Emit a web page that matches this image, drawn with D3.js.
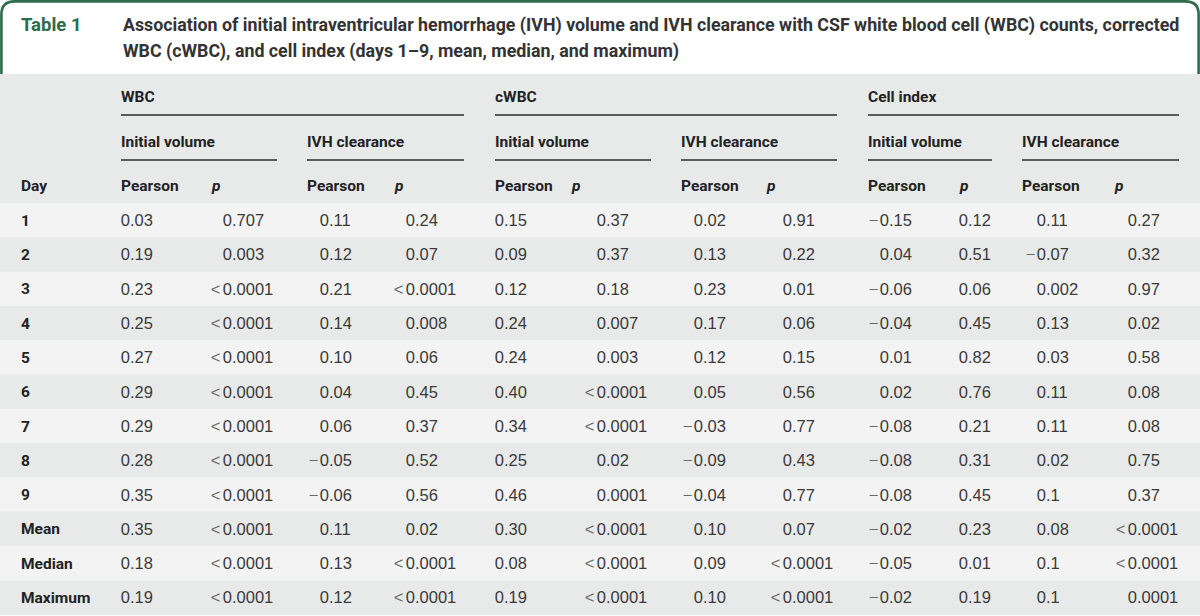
<!DOCTYPE html>
<html>
<head>
<meta charset="utf-8">
<script src="https://cdn.jsdelivr.net/npm/d3@7/dist/d3.min.js"></script>
<style>
  html, body { margin: 0; padding: 0; background: #ffffff; }
  svg { display: block; }
</style>
</head>
<body>
<svg id="chart" width="1200" height="616"></svg>
<script>
// ---------- DATA ----------
const tableLabel = "Table 1";
const titleLines = [
  "Association of initial intraventricular hemorrhage (IVH) volume and IVH clearance with CSF white blood cell (WBC) counts, corrected",
  "WBC (cWBC), and cell index (days 1–9, mean, median, and maximum)"
];
const groups = ["WBC", "cWBC", "Cell index"];
const subgroups = ["Initial volume", "IVH clearance"];
const statLabels = ["Pearson", "p"];
const dayHeader = "Day";
const days = ["1", "2", "3", "4", "5", "6", "7", "8", "9", "Mean", "Median", "Maximum"];

const wbcInitR  = ["0.03","0.19","0.23","0.25","0.27","0.29","0.29","0.28","0.35","0.35","0.18","0.19"];
const wbcInitP  = ["0.707","0.003","<0.0001","<0.0001","<0.0001","<0.0001","<0.0001","<0.0001","<0.0001","<0.0001","<0.0001","<0.0001"];
const wbcClrR   = ["0.11","0.12","0.21","0.14","0.10","0.04","0.06","−0.05","−0.06","0.11","0.13","0.12"];
const wbcClrP   = ["0.24","0.07","<0.0001","0.008","0.06","0.45","0.37","0.52","0.56","0.02","<0.0001","<0.0001"];
const cwbcInitR = ["0.15","0.09","0.12","0.24","0.24","0.40","0.34","0.25","0.46","0.30","0.08","0.19"];
const cwbcInitP = ["0.37","0.37","0.18","0.007","0.003","<0.0001","<0.0001","0.02","0.0001","<0.0001","<0.0001","<0.0001"];
const cwbcClrR  = ["0.02","0.13","0.23","0.17","0.12","0.05","−0.03","−0.09","−0.04","0.10","0.09","0.10"];
const cwbcClrP  = ["0.91","0.22","0.01","0.06","0.15","0.56","0.77","0.43","0.77","0.07","<0.0001","<0.0001"];
const ciInitR   = ["−0.15","0.04","−0.06","−0.04","0.01","0.02","−0.08","−0.08","−0.08","−0.02","−0.05","−0.02"];
const ciInitP   = ["0.12","0.51","0.06","0.45","0.82","0.76","0.21","0.31","0.45","0.23","0.01","0.19"];
const ciClrR    = ["0.11","−0.07","0.002","0.13","0.03","0.11","0.11","0.02","0.1","0.08","0.1","0.1"];
const ciClrP    = ["0.27","0.32","0.97","0.02","0.58","0.08","0.08","0.75","0.37","<0.0001","<0.0001","0.0001"];

const valueColumns = [wbcInitR, wbcInitP, wbcClrR, wbcClrP,
                      cwbcInitR, cwbcInitP, cwbcClrR, cwbcClrP,
                      ciInitR, ciInitP, ciClrR, ciClrP];

// ---------- LAYOUT ----------
const W = 1200, H = 616;
const green = "#2d6c4c";
const headFont = "Roboto, 'Liberation Sans', Arial, sans-serif";
const bodyFont = "'Liberation Sans', Arial, sans-serif";

const svg = d3.select("#chart");

const groupSpans = [
  {x0: 121, x1: 307, x2: 464, xi: 277},
  {x0: 495, x1: 681, x2: 837, xi: 651},
  {x0: 868, x1: 1022, x2: 1179, xi: 992}
];
const pHeaderX = [212, 395, 572, 767, 960, 1115];
const pearsonX = [121, 307, 495, 681, 868, 1022];
const decimalX = [130, 232, 329, 415, 504, 606, 703, 792, 889, 968, 1046, 1137];

const headerTop = 74, bodyTop = 203, rowH = 34.3;
const y = d3.scaleBand().domain(days).range([bodyTop, bodyTop + rowH * days.length]).padding(0);

// ---------- BACKGROUNDS ----------
svg.append("rect").attr("x", 0).attr("y", 0).attr("width", W).attr("height", H).attr("fill", "#ffffff");
svg.append("rect").attr("x", 0).attr("y", headerTop).attr("width", W).attr("height", bodyTop - headerTop)
  .attr("fill", "#e8e9e9");

svg.append("g").selectAll("rect").data(days).join("rect")
  .attr("x", 0).attr("y", d => y(d)).attr("width", W).attr("height", y.bandwidth() + 0.5)
  .attr("fill", (d, i) => i % 2 === 0 ? "#f3f3f3" : "#e8e9e9");

// title frame (rounded top corners, open bottom)
const r = 13, b = 1.4;
svg.append("path")
  .attr("d", `M${b},${headerTop} L${b},${r + b} Q${b},${b} ${r + b},${b} L${W - r - b},${b} Q${W - b},${b} ${W - b},${r + b} L${W - b},${headerTop}`)
  .attr("fill", "none").attr("stroke", green).attr("stroke-width", 2.6);

// ---------- TITLE ----------
svg.append("text").attr("x", 21).attr("y", 31)
  .attr("font-family", headFont).attr("font-weight", 700).attr("font-size", 18.5)
  .attr("fill", green).text(tableLabel);

const titleG = svg.append("g");
const titleTexts = titleG.selectAll("text").data(titleLines).join("text")
  .attr("x", 123).attr("y", (d, i) => 31 + i * 26)
  .attr("font-family", headFont).attr("font-weight", 700).attr("font-size", 16)
  .attr("fill", "#333333").text(d => d);
const w0 = titleTexts.nodes()[0].getComputedTextLength();
const fs = 16 * 1057 / w0;
titleTexts.attr("font-size", fs);

// ---------- HEADER ----------
const hdr = svg.append("g").attr("font-family", headFont).attr("font-weight", 700)
  .attr("font-size", 15.5).attr("fill", "#222222");

hdr.selectAll("text.grp").data(groups).join("text").attr("class", "grp")
  .attr("x", (d, i) => groupSpans[i].x0).attr("y", 102).text(d => d);

const lineColor = "#2b2b2b";
svg.append("g").selectAll("line").data(groupSpans).join("line")
  .attr("x1", d => d.x0).attr("x2", d => d.x2).attr("y1", 115).attr("y2", 115)
  .attr("stroke", lineColor).attr("stroke-width", 1.5);

const subCells = groupSpans.flatMap((g, gi) => subgroups.map((s, si) => ({
  label: s, x: si === 0 ? g.x0 : g.x1, xe: si === 0 ? g.xi : g.x2
})));
hdr.selectAll("text.sub").data(subCells).join("text").attr("class", "sub")
  .attr("x", d => d.x).attr("y", 147).text(d => d.label);
svg.append("g").selectAll("line").data(subCells).join("line")
  .attr("x1", d => d.x).attr("x2", d => d.xe).attr("y1", 160).attr("y2", 160)
  .attr("stroke", lineColor).attr("stroke-width", 1.5);

hdr.append("text").attr("x", 21).attr("y", 191).text(dayHeader);
hdr.selectAll("text.pear").data(pearsonX).join("text").attr("class", "pear")
  .attr("x", d => d).attr("y", 191).text(statLabels[0]);
hdr.selectAll("text.pp").data(pHeaderX).join("text").attr("class", "pp")
  .attr("x", d => d).attr("y", 191).attr("font-style", "italic").text(statLabels[1]);

// ---------- BODY ----------
const rowLabels = svg.append("g").attr("font-family", headFont).attr("font-weight", 700)
  .attr("font-size", 15.5).attr("fill", "#222222");
rowLabels.selectAll("text").data(days).join("text")
  .attr("x", 21).attr("y", d => y(d) + y.bandwidth() / 2 + 5.6).text(d => d);

const cells = [];
valueColumns.forEach((col, ci) => {
  col.forEach((v, ri) => {
    const k = v.indexOf(".");
    let left = k >= 0 ? v.slice(0, k) : v;
    let sign = "";
    if (left[0] === "<" || left[0] === "−") { sign = left[0]; left = left.slice(1); }
    cells.push({ci, day: days[ri], sign, left, right: k >= 0 ? v.slice(k) : ""});
  });
});

const body = svg.append("g").attr("font-family", bodyFont).attr("font-size", 16.5).attr("fill", "#3a3a3a");
const leftTexts = body.selectAll("text.l").data(cells).join("text").attr("class", "l")
  .attr("x", d => decimalX[d.ci]).attr("y", d => y(d.day) + y.bandwidth() / 2 + 6)
  .attr("text-anchor", "end");
leftTexts.filter(d => d.sign).append("tspan").attr("fill", "#6a6a6a").text(d => d.sign);
leftTexts.append("tspan").attr("dx", d => d.sign === "<" ? 2.5 : (d.sign ? 1.5 : 0)).text(d => d.left);
body.selectAll("text.r").data(cells).join("text").attr("class", "r")
  .attr("x", d => decimalX[d.ci]).attr("y", d => y(d.day) + y.bandwidth() / 2 + 6)
  .attr("text-anchor", "start").text(d => d.right);
</script>
</body>
</html>
